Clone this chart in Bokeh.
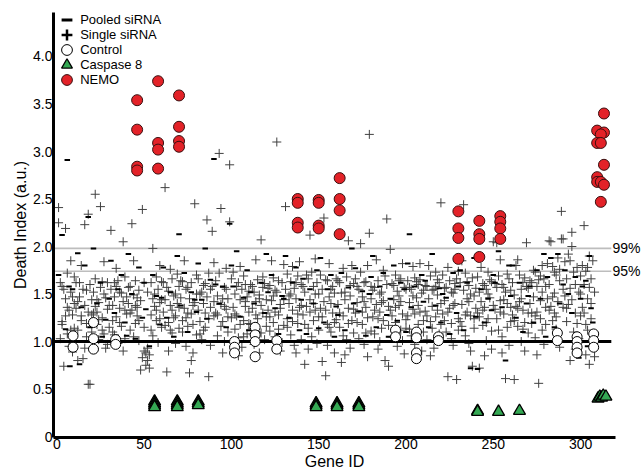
from bokeh.plotting import figure
from bokeh.models import Range1d, FixedTicker, Legend, LegendItem, LinearAxis
from bokeh.embed import file_html
from bokeh.resources import INLINE

# ---------------- data ----------------
x_ticks = [0, 50, 100, 150, 200, 250, 300]
x_tick_labels = ["0", "50", "100", "150", "200", "250", "300"]
y_ticks = [0, 0.5, 1.0, 1.5, 2.0, 2.5, 3.0, 3.5, 4.0]
y_tick_labels = ["0", "0.5", "1.0", "1.5", "2.0", "2.5", "3.0", "3.5", "4.0"]

threshold_values = [1.98, 1.74]
threshold_labels = ["99%", "95%"]
control_baseline = 1.0

nemo_gene = [46, 46, 46, 46, 58, 58, 58, 58, 70, 70, 70, 70,
             138, 138, 138, 138, 150, 150, 150, 150, 162, 162, 162, 162,
             230, 230, 230, 230, 242, 242, 242, 242, 254, 254, 254, 254,
             313.4, 309.5, 313.4, 311.6, 309.5, 311.6, 313.4, 309.5, 309.5, 311.6, 313.4, 311.6]
nemo_value = [3.54, 3.23, 2.84, 2.80, 3.74, 3.09, 3.02, 2.82, 3.59, 3.26, 3.11, 3.05,
              2.50, 2.46, 2.25, 2.20, 2.49, 2.46, 2.22, 2.19, 2.72, 2.50, 2.38, 2.13,
              2.37, 2.19, 2.09, 1.87, 2.27, 2.13, 2.08, 1.89, 2.32, 2.26, 2.19, 2.08,
              3.40, 3.22, 3.20, 3.18, 3.09, 3.09, 2.86, 2.73, 2.68, 2.68, 2.65, 2.47]

casp8_gene = [56, 56, 56, 56, 69, 69, 69, 69, 81, 81, 81,
              148.5, 148.5, 148.5, 160.5, 160.5, 160.5, 173, 173, 173,
              241, 241, 253, 265, 310, 311, 312, 313, 314.5]
casp8_value = [0.37, 0.35, 0.33, 0.31, 0.37, 0.35, 0.33, 0.31, 0.37, 0.35, 0.33,
               0.35, 0.33, 0.31, 0.35, 0.33, 0.31, 0.35, 0.33, 0.31,
               0.27, 0.26, 0.26, 0.27, 0.40, 0.42, 0.41, 0.43, 0.42]

control_gene = [9.3, 9.3, 21, 21, 21, 33.7, 33.7, 101.8, 101.8, 101.8,
                113.6, 113.6, 113.6, 113.6, 126, 126, 194, 194, 206, 206, 206, 206,
                218.6, 218.6, 286.7, 286.7, 298, 298, 298, 298, 307.5, 307.5, 307.5]
control_value = [1.06, 0.94, 1.20, 1.03, 0.92, 1.02, 0.97, 1.00, 0.94, 0.88,
                 1.15, 1.07, 1.00, 0.84, 1.01, 0.92, 1.12, 1.05, 1.10, 1.04, 0.88, 0.82,
                 1.05, 1.01, 1.09, 1.01, 1.05, 1.00, 0.94, 0.88, 1.08, 1.01, 0.94]

single_sirna = [
    (1,2.41),(1,2.25),(2,1.62),(3,1.58),(3,1.21),(4,0.74),(5,2.19),(5,1.45),(6,1.72),(6,1.08),(7,1.33),(7,0.95),(8,1.85),(8,1.52),(9,1.28),(9,0.89),(10,1.68),(10,1.40),(2,1.03),(4,1.55),(6,1.36),(8,1.12),(3,1.18),(5,1.27),(9,1.47),(10,1.14),
    (11,1.62),(11,1.35),(12,1.12),(12,0.80),(13,1.62),(13,1.47),(14,1.80),(14,1.27),(15,0.82),(15,1.55),(16,2.23),(16,1.38),(17,1.54),(17,1.05),(18,2.34),(18,0.55),(19,0.55),(19,1.60),(20,1.44),(20,1.28),(14,1.22),(16,0.93),(18,1.31),(12,1.42),(17,1.19),(20,1.10),
    (21,1.52),(21,1.30),(22,2.55),(22,1.66),(23,1.18),(23,1.44),(24,1.41),(24,1.02),(25,2.42),(25,1.57),(26,1.63),(26,1.25),(27,1.84),(27,1.08),(28,1.46),(28,0.93),(29,1.62),(29,1.34),(30,1.38),(30,1.15),(22,1.37),(27,1.50),(24,1.23),(26,1.12),(29,0.97),(23,1.31),
    (31,2.17),(31,1.55),(32,1.38),(32,1.10),(33,1.62),(33,1.47),(34,1.77),(34,1.26),(35,1.64),(35,0.98),(36,1.52),(36,1.35),(37,1.51),(37,1.16),(38,2.05),(38,1.42),(39,1.68),(39,1.03),(40,1.47),(40,1.29),(34,1.58),(38,0.90),(32,1.22),(36,1.20),(39,1.33),(33,1.07),
    (41,1.57),(41,1.40),(42,1.58),(42,1.12),(43,2.24),(43,1.33),(44,1.85),(44,1.49),(45,1.64),(45,1.19),(46,1.46),(46,1.36),(47,1.54),(47,1.01),(48,0.70),(48,1.43),(49,2.39),(49,0.83),(50,1.62),(50,0.90),(46,1.27),(44,1.05),(42,1.30),(45,1.38),(47,1.22),(50,1.15),
    (51,0.75),(51,0.88),(52,0.80),(52,0.93),(52,1.52),(53,0.72),(53,0.86),(54,1.62),(54,1.28),(55,1.45),(55,1.06),(56,1.50),(56,1.37),(57,1.68),(57,1.22),(58,1.55),(58,0.99),(59,1.80),(59,1.41),(60,1.63),(60,1.15),(55,1.98),(54,1.12),(57,1.33),(59,1.24),(60,1.44),
    (61,1.62),(61,1.31),(62,2.62),(62,1.44),(63,1.57),(63,0.68),(64,1.53),(64,1.20),(65,1.76),(65,1.38),(66,1.66),(66,1.09),(67,1.48),(67,1.25),(68,1.27),(68,0.98),(69,1.71),(69,1.40),(70,1.58),(70,1.14),(66,1.33),(64,0.90),(62,1.17),(65,1.12),(68,1.50),(70,1.36),
    (71,1.64),(71,1.46),(72,1.63),(72,1.22),(73,1.85),(73,1.35),(74,1.55),(74,0.95),(75,1.57),(75,1.30),(76,0.67),(76,1.45),(77,0.80),(77,1.62),(78,1.18),(78,1.38),(79,2.45),(79,1.41),(80,1.70),(80,1.07),(74,1.25),(78,0.88),(72,1.10),(75,1.16),(77,1.29),(80,1.50),
    (81,1.66),(81,1.33),(82,1.50),(82,1.21),(83,1.52),(83,1.02),(84,1.59),(84,1.40),(85,1.61),(85,1.15),(86,2.28),(86,1.47),(87,1.72),(87,0.63),(88,1.36),(88,0.96),(89,2.16),(89,1.58),(90,1.83),(90,1.27),(84,1.12),(88,1.55),(82,1.08),(85,1.30),(87,1.24),(90,1.42),
    (91,1.64),(91,1.30),(92,1.48),(92,1.06),(93,2.98),(93,1.72),(94,2.40),(94,1.39),(95,1.45),(95,1.21),(96,1.57),(96,1.00),(97,1.77),(97,1.34),(98,1.45),(98,1.10),(99,2.86),(99,2.26),(100,1.66),(100,1.25),(95,0.88),(97,1.55),(92,1.28),(94,1.16),(96,1.37),(98,1.26),
    (101,1.73),(101,1.36),(102,1.50),(102,1.13),(103,1.58),(103,1.27),(104,1.62),(104,1.04),(105,1.79),(105,1.44),(106,1.55),(106,0.94),(107,1.69),(107,1.22),(108,1.42),(108,1.37),(109,1.47),(109,1.08),(110,1.53),(110,1.31),(104,0.85),(108,1.60),(102,1.29),(105,1.18),(107,1.05),(110,1.19),
    (111,1.60),(111,1.18),(112,1.58),(112,1.35),(113,1.52),(113,0.97),(114,1.86),(114,1.42),(115,1.65),(115,1.24),(116,1.45),(116,1.49),(117,2.07),(117,1.09),(118,1.57),(118,1.30),(119,1.61),(119,1.02),(120,1.44),(120,1.16),(116,0.88),(118,1.68),(112,1.14),(114,1.28),(117,1.38),(120,1.26),
    (121,1.56),(121,1.33),(122,1.59),(122,1.11),(123,1.85),(123,1.43),(124,1.67),(124,1.20),(125,1.54),(125,1.05),(126,3.10),(126,1.52),(127,1.64),(127,1.28),(128,1.35),(128,1.39),(129,1.62),(129,0.99),(130,1.81),(130,1.17),(124,1.48),(128,0.90),(122,1.26),(125,1.31),(127,1.13),(130,1.44),
    (131,2.42),(131,1.55),(132,1.71),(132,1.24),(133,1.48),(133,1.40),(134,1.63),(134,1.07),(135,1.79),(135,1.33),(136,1.56),(136,0.96),(137,1.62),(137,1.45),(138,1.69),(138,1.19),(139,1.84),(139,1.36),(140,1.60),(140,1.02),(134,1.50),(137,0.88),(132,1.15),(135,1.21),(138,1.29),(140,1.38),
    (141,1.58),(141,1.28),(142,0.76),(142,1.52),(143,1.70),(143,1.37),(144,1.66),(144,1.14),(145,2.12),(145,1.44),(146,1.73),(146,1.05),(147,1.58),(147,1.22),(148,1.87),(148,1.33),(149,1.62),(149,0.98),(150,1.50),(150,1.26),(144,0.92),(148,1.50),(142,1.18),(145,1.31),(147,1.40),(150,1.12),
    (151,1.70),(151,1.35),(152,0.79),(152,1.55),(153,2.30),(153,1.42),(154,0.64),(154,1.65),(155,1.64),(155,1.18),(156,1.82),(156,1.47),(157,1.55),(157,1.10),(158,1.58),(158,1.30),(159,0.88),(159,1.51),(160,1.66),(160,1.23),(155,0.96),(157,1.40),(152,1.26),(154,1.33),(156,1.15),(159,1.20),
    (161,1.64),(161,1.39),(162,1.62),(162,1.15),(163,0.78),(163,1.51),(164,1.77),(164,1.27),(165,1.52),(165,1.44),(166,1.68),(166,1.02),(167,2.06),(167,1.35),(168,1.59),(168,0.93),(169,1.80),(169,1.22),(170,1.61),(170,1.09),(165,0.86),(168,1.48),(162,1.30),(164,1.06),(167,1.19),(170,1.34),
    (171,1.66),(171,1.30),(172,1.58),(172,1.41),(173,1.55),(173,1.03),(174,2.03),(174,1.73),(175,1.47),(175,1.18),(176,1.62),(176,0.97),(177,1.63),(177,1.36),(178,1.80),(178,1.25),(179,3.18),(179,2.14),(180,1.58),(180,1.11),(176,1.42),(178,0.84),(172,1.20),(175,1.31),(177,1.09),(180,1.45),
    (181,1.54),(181,1.26),(182,1.57),(182,1.08),(183,1.86),(183,1.39),(184,1.64),(184,0.92),(185,1.50),(185,1.31),(186,1.52),(186,1.14),(187,1.75),(187,1.43),(188,1.69),(188,0.80),(189,2.29),(189,1.60),(190,0.74),(190,1.37),(185,1.00),(187,1.22),(182,1.33),(184,1.24),(186,1.41),(190,1.17),
    (191,1.97),(191,1.33),(192,1.61),(192,1.05),(193,1.59),(193,1.44),(194,1.70),(194,1.20),(195,1.53),(195,0.95),(196,1.64),(196,1.38),(197,1.66),(197,1.12),(198,1.82),(198,1.29),(199,1.57),(199,0.87),(200,1.55),(200,1.23),(196,1.48),(198,1.01),(192,1.27),(194,1.36),(197,1.42),(200,1.14),
    (201,1.64),(201,1.27),(202,1.57),(202,1.41),(203,1.55),(203,1.06),(204,1.79),(204,1.34),(205,1.67),(205,0.97),(206,1.63),(206,1.46),(207,1.60),(207,1.18),(208,1.82),(208,1.31),(209,1.51),(209,0.90),(210,1.54),(210,1.22),(204,1.48),(208,1.65),(202,1.13),(205,1.29),(207,1.38),(210,1.10),
    (211,1.59),(211,1.32),(212,1.58),(212,1.02),(213,1.80),(213,1.45),(214,1.69),(214,1.21),(215,1.54),(215,1.37),(216,1.55),(216,0.93),(217,1.73),(217,1.26),(218,1.65),(218,1.49),(219,1.62),(219,1.08),(220,2.46),(220,1.40),(214,0.85),(217,1.58),(212,1.27),(215,1.14),(218,1.33),(220,1.18),
    (221,1.70),(221,1.29),(222,1.56),(222,1.43),(223,1.57),(223,1.10),(224,0.63),(224,1.78),(225,1.64),(225,1.35),(226,1.52),(226,1.19),(227,1.51),(227,0.96),(228,1.61),(228,1.40),(229,0.60),(229,1.66),(230,1.74),(230,1.24),(226,1.03),(228,1.55),(222,1.22),(224,1.31),(227,1.38),(230,1.12),
    (231,1.62),(231,1.21),(232,1.85),(232,1.39),(233,2.44),(233,1.54),(234,1.72),(234,1.06),(235,1.63),(235,1.31),(236,1.59),(236,0.98),(237,1.50),(237,1.27),(238,1.67),(238,0.74),(239,1.48),(239,1.14),(240,1.56),(240,1.35),(235,1.45),(237,0.90),(232,1.16),(234,1.28),(236,1.42),(239,1.24),
    (241,1.68),(241,1.30),(242,1.52),(242,0.72),(243,1.78),(243,1.42),(244,1.61),(244,1.17),(245,1.59),(245,1.36),(246,1.55),(246,1.01),(247,1.73),(247,1.24),(248,1.65),(248,1.46),(249,1.63),(249,0.92),(250,2.05),(250,1.38),(245,0.85),(247,1.50),(242,1.26),(244,1.33),(246,1.20),(249,1.11),
    (251,1.61),(251,1.34),(252,2.04),(252,1.57),(253,1.69),(253,1.12),(254,1.86),(254,1.43),(255,1.60),(255,1.05),(256,1.57),(256,1.29),(257,0.61),(257,1.52),(258,1.71),(258,1.40),(259,1.66),(259,0.96),(260,1.54),(260,1.21),(255,0.88),(258,1.15),(252,1.24),(254,1.31),(256,1.44),(260,1.36),
    (261,1.62),(261,1.28),(262,0.60),(262,1.49),(263,1.80),(263,1.37),(264,1.86),(264,1.16),(265,1.70),(265,1.42),(266,1.55),(266,1.00),(267,1.62),(267,1.33),(268,1.67),(268,1.20),(269,2.04),(269,1.58),(270,1.56),(270,1.09),(266,1.45),(268,0.90),(262,1.22),(264,1.35),(267,1.13),(270,1.30),
    (271,1.64),(271,1.40),(272,1.62),(272,1.19),(273,1.75),(273,1.47),(274,1.73),(274,1.04),(275,1.58),(275,1.31),(276,0.56),(276,1.65),(277,1.69),(277,1.24),(278,1.80),(278,1.52),(279,1.66),(279,0.97),(280,1.58),(280,1.36),(275,0.86),(278,1.12),(272,1.30),(274,1.27),(277,1.43),(280,1.18),
    (281,1.82),(281,1.45),(282,2.06),(282,1.60),(283,2.05),(283,1.37),(284,1.79),(284,1.22),(285,1.73),(285,1.51),(286,1.70),(286,1.13),(287,1.88),(287,1.42),(288,1.64),(288,0.94),(289,2.37),(289,2.08),(290,2.08),(290,1.55),(285,1.30),(288,1.76),(282,1.33),(284,1.47),(286,1.26),(290,1.36),
    (291,1.84),(291,1.48),(292,1.66),(292,1.21),(293,1.92),(293,1.39),(294,1.85),(294,1.56),(295,2.15),(295,2.00),(296,1.73),(296,1.10),(297,1.60),(297,1.30),(298,1.78),(298,0.88),(299,1.52),(299,1.03),(300,1.69),(300,1.27),(294,0.80),(297,0.92),(292,1.35),(295,1.44),(298,1.19),(300,1.50),
    (301,1.80),(301,1.36),(302,2.22),(302,1.60),(303,1.74),(303,1.18),(304,1.78),(304,1.45),(305,1.90),(305,1.57),(306,1.66),(306,1.24),(307,1.85),(307,0.96),(308,1.52),(308,0.84),(303,0.86),(305,0.76),(302,1.30),(304,1.12),(306,1.40),
]

pooled_sirna = [
    (1,1.70),(3,2.12),(5,1.13),(7,1.58),(9,1.55),(6,2.91),(7.5,0.74),
    (12,1.93),(14,1.36),(16,1.80),(18,2.31),(19,1.15),(13,0.76),
    (21,1.98),(23,1.40),(25,1.62),(28,1.23),(30,1.45),(26,1.05),
    (31,1.85),(33,1.30),(35,1.55),(37,1.70),(39,1.20),(40,1.06),
    (41,1.92),(43,1.50),(45,1.03),(47,1.78),(49,1.25),(50,1.62),
    (51,1.34),(53,0.95),(55,1.70),(57,1.48),(59,1.18),(60,1.46),
    (61,1.78),(63,1.25),(65,1.52),(67,1.05),(69,1.90),(70,2.13),
    (71,1.38),(73,1.72),(75,1.10),(77,1.52),(79,1.44),(80,1.31),
    (81,1.82),(83,1.44),(85,1.98),(86,1.24),(88,1.65),(90,2.92),
    (91,1.60),(93,1.40),(95,1.58),(97,1.15),(99,2.24),(100,1.80),
    (101,1.58),(103,1.95),(105,1.26),(107,1.46),(109,1.75),(110,1.12),
    (111,1.52),(113,1.40),(115,1.10),(117,1.62),(119,1.30),(120,1.92),
    (121,1.52),(123,1.70),(125,1.35),(127,1.08),(129,1.48),(130,1.45),
    (131,1.90),(133,1.25),(135,1.62),(137,1.78),(139,1.12),(140,1.44),
    (141,1.66),(143,1.08),(145,1.55),(147,1.40),(149,1.75),(150,1.14),
    (151,1.88),(153,1.20),(155,1.55),(157,1.70),(159,1.05),(160,1.37),
    (161,1.28),(163,1.72),(165,1.12),(167,1.57),(169,1.98),(170,1.40),
    (171,1.77),(173,1.32),(175,1.53),(177,1.06),(179,1.50),(180,1.68),
    (181,1.90),(183,1.15),(185,1.58),(187,1.72),(189,1.28),(190,1.05),
    (191,1.45),(193,1.80),(195,1.22),(197,1.62),(199,1.55),(200,1.10),
    (201,1.82),(202,2.13),(203,1.36),(205,1.58),(207,1.05),(209,1.70),(210,1.42),
    (211,1.64),(213,1.15),(215,1.92),(217,1.38),(219,1.56),(220,1.20),
    (221,1.50),(223,1.46),(225,1.08),(227,1.72),(229,1.30),(230,1.58),
    (231,1.75),(233,1.12),(235,1.62),(237,0.72),(239,1.88),(240,1.26),
    (241,0.71),(243,1.55),(245,1.20),(247,1.45),(249,1.33),(250,1.70),
    (251,1.62),(253,1.95),(255,1.36),(257,0.80),(259,1.80),(260,1.48),
    (261,1.80),(263,1.25),(265,1.62),(267,1.10),(269,1.40),(270,1.48),
    (271,1.58),(273,1.20),(275,1.75),(277,1.45),(279,1.92),(280,1.05),
    (281,1.68),(283,1.88),(285,1.15),(287,1.92),(288,1.40),(290,1.60),
    (291,1.75),(293,1.50),(295,1.30),(297,1.68),(299,0.83),(300,1.45),
    (301,1.58),(303,1.64),(305,1.90),(306,1.35),(307,1.20),(304,0.95),
]

legend_labels = ["Pooled siRNA", "Single siRNA", "Control", "Caspase 8", "NEMO"]

# ---------------- figure ----------------
FONT = "Liberation Sans"
p = figure(width=643, height=473, x_range=Range1d(-1.9, 320), y_range=Range1d(-0.01, 4.463),
           output_backend="svg", toolbar_location=None,
           min_border_left=53, min_border_right=27, min_border_top=12, min_border_bottom=36)
p.outline_line_color = None
p.xgrid.visible = False
p.ygrid.visible = False
p.background_fill_color = "white"
p.border_fill_color = "white"

for ax in (p.xaxis[0], p.yaxis[0]):
    ax.axis_line_width = 3
    ax.axis_line_color = "black"
    ax.major_tick_out = 0
    ax.major_tick_in = 0
    ax.minor_tick_out = 0
    ax.minor_tick_in = 0
    ax.major_label_text_font = FONT
    ax.major_label_text_font_size = "14px"
    ax.major_label_text_color = "black"
    ax.axis_label_text_font = FONT
    ax.axis_label_text_font_size = "16px"
    ax.axis_label_text_font_style = "normal"
    ax.axis_label_text_color = "black"

p.xaxis.ticker = FixedTicker(ticks=x_ticks)
p.xaxis.major_label_overrides = dict(zip(x_ticks, x_tick_labels))
p.xaxis.major_label_standoff = 1
p.xaxis.axis_label = "Gene ID"
p.xaxis.axis_label_standoff = 1
p.yaxis.ticker = FixedTicker(ticks=y_ticks)
p.yaxis.major_label_overrides = dict(zip(y_ticks, y_tick_labels))
p.yaxis.major_label_standoff = 1
p.yaxis.axis_label = "Death Index (a.u.)"
p.yaxis.axis_label_standoff = 1

# right-hand labels for the percentile thresholds
right_ax = LinearAxis(ticker=FixedTicker(ticks=threshold_values),
                      major_label_overrides=dict(zip(threshold_values, threshold_labels)),
                      axis_line_color=None, major_tick_out=0, major_tick_in=0,
                      minor_tick_out=0, minor_tick_in=0, major_label_standoff=-3,
                      major_label_text_font=FONT, major_label_text_font_size="14px",
                      major_label_text_color="black")
p.add_layout(right_ax, "right")

x_line_start = -1.9
x_line_end = 317.6

for v in threshold_values:
    p.line([x_line_start, x_line_end], [v, v], line_color="#bdbdbd", line_width=1.6)

s_x = [g for g, v in single_sirna]
s_y = [v for g, v in single_sirna]
p.scatter(s_x, s_y, marker="cross", size=9, line_color="#404040", line_width=1)

po_x = [g for g, v in pooled_sirna]
po_y = [v for g, v in pooled_sirna]
p.scatter(po_x, po_y, marker="dash", size=5.5, line_color="black", line_width=2)

p.line([x_line_start, x_line_end], [control_baseline, control_baseline], line_color="black", line_width=3)

r_ctrl = p.scatter(control_gene, control_value, marker="circle", size=10,
                   fill_color="white", line_color="black", line_width=1)
r_casp = p.scatter(casp8_gene, casp8_value, marker="triangle", size=12,
                   fill_color="#34a853", line_color="black", line_width=1.3)
r_nemo = p.scatter(nemo_gene, nemo_value, marker="circle", size=11,
                   fill_color="#e32228", line_color="#3a1010", line_width=1)

# legend-only renderers (single point far outside the visible ranges)
leg_pooled = p.scatter(x=[-1000], y=[-1000], marker="dash", line_color="black", line_width=3)
leg_single = p.scatter(x=[-1000], y=[-1000], marker="cross", line_color="black", line_width=2.5)

legend_renderers = [leg_pooled, leg_single, r_ctrl, r_casp, r_nemo]
row_offsets = [404, 389, 374, 359, 344]   # legend rows, px above frame bottom
for lab, rend, off in zip(legend_labels, legend_renderers, row_offsets):
    lg = Legend(items=[LegendItem(label=lab, renderers=[rend])],
                location=(0.2, off), margin=0, padding=0,
                glyph_height=27, glyph_width=27, label_standoff=-2, label_height=13,
                label_text_font=FONT, label_text_font_size="13px", label_text_color="black",
                border_line_color=None, background_fill_alpha=0)
    p.add_layout(lg)

open("out.html", "w").write(file_html(p, INLINE))
